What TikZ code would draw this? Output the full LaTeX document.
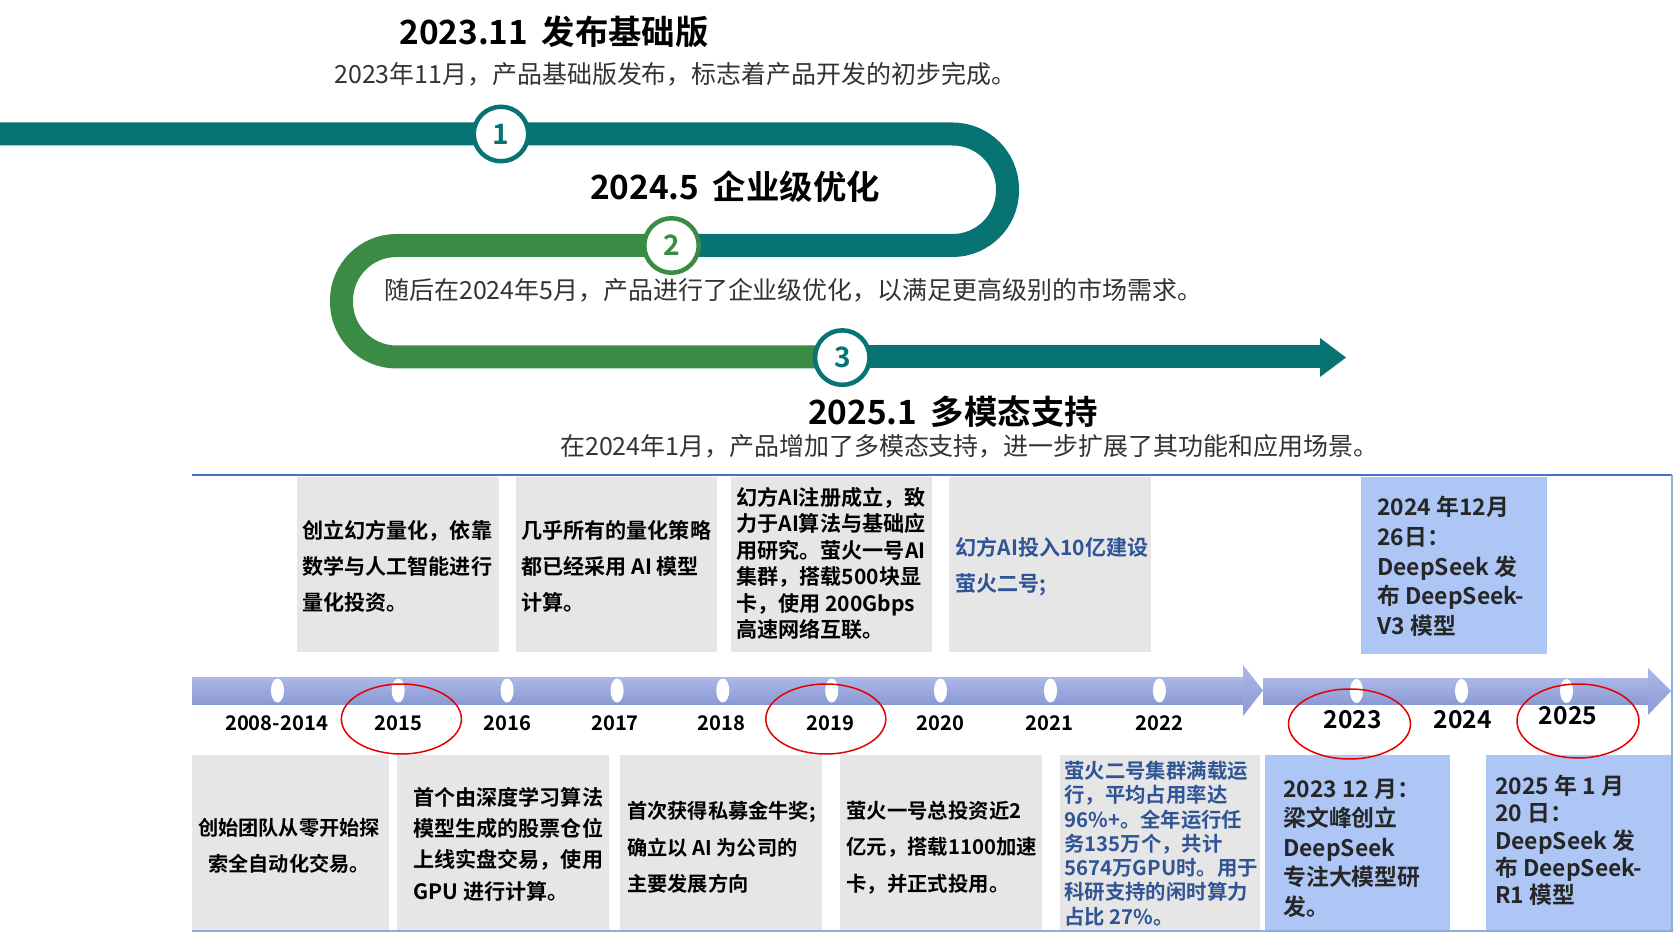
\documentclass[tikz,border=0pt]{standalone}
\usepackage{fontspec}
\setmainfont{Noto Sans CJK SC}[BoldFont={Noto Sans CJK SC Bold}]
\newdimen\pxu \pxu=0.02cm
\definecolor{roadteal}{RGB}{8,115,115}
\definecolor{roadgreen}{RGB}{58,140,68}
\definecolor{subgray}{RGB}{51,51,51}
\definecolor{cardgray}{RGB}{230,230,230}
\definecolor{cardblue}{RGB}{173,198,245}
\definecolor{inkblue}{RGB}{47,85,151}
\definecolor{bartop}{RGB}{172,184,232}
\definecolor{barbot}{RGB}{138,154,212}
\definecolor{framebl}{RGB}{68,114,196}

\begin{document}
\begin{tikzpicture}[x=0.02cm,y=-0.02cm,
  band/.style={line width=23\pxu,rounded corners=55\pxu},
  stepnum/.style={circle,draw=#1,fill=white,line width=4.5\pxu,minimum size=54.5\pxu,inner sep=0,text=#1,font=\bfseries\fontsize{16}{16}\selectfont},
  headline/.style={inner sep=0,font=\bfseries\fontsize{19}{23}\selectfont},
  subline/.style={anchor=west,inner sep=0,text=subgray,font=\fontsize{14.2}{17}\selectfont},
  card/.style={anchor=west,align=left,inner sep=0,font=\bfseries\fontsize{12}{#1}\selectfont},
  bigcard/.style={anchor=west,align=left,inner sep=0,text=black!85,font=\bfseries\fontsize{13}{#1}\selectfont},
  bar/.style={top color=bartop,bottom color=barbot,draw=none},
  tick/.style={fill=white,draw=none},
  yr/.style={inner sep=0,font=\bfseries\fontsize{11.5}{12}\selectfont},
  bigyr/.style={inner sep=0,font=\bfseries\fontsize{14}{14}\selectfont},
  ring/.style={draw=red!90!black,line width=1.5\pxu}]
\useasboundingbox (0,0) rectangle (1674,932);

% road of the three stages
\draw[band,roadteal] (0,134) -- (1007.5,134) -- (1007.5,245.5) -- (671.5,245.5);
\draw[band,roadgreen] (671.5,245.5) -- (341.5,245.5) -- (341.5,357) -- (842.3,357);
\draw[band,roadteal] (842.3,357) -- (1321,357);
\fill[roadteal] (1320,338) -- (1346,357.5) -- (1320,377) -- cycle;
\node[stepnum=roadteal] (c1) at (501,134) {1};
\node[stepnum=roadgreen] (c2) at (671.5,245.5) {2};
\node[stepnum=roadteal] (c3) at (842.3,357.6) {3};

\node[headline] (h1) at (554,32) {2023.11\hspace{0.4em}发布基础版};
\node[subline] (s1) at (334,74) {2023年11月，产品基础版发布，标志着产品开发的初步完成。};
\node[headline] (h2) at (735,187) {2024.5\hspace{0.4em}企业级优化};
\node[subline] (s2) at (384,290) {随后在2024年5月，产品进行了企业级优化，以满足更高级别的市场需求。};
\node[headline] (h3) at (953,412) {2025.1\hspace{0.4em}多模态支持};
\node[subline] (s3) at (560,446) {在2024年1月，产品增加了多模态支持，进一步扩展了其功能和应用场景。};

% frame of the time line
\draw[framebl,line width=2\pxu] (192,475) -- (1672,475);
\draw[framebl!60,line width=1.5\pxu] (1672,475) -- (1672,931) -- (192,931);

% cards above the bar
\fill[cardgray] (297,477) rectangle (499,652);
\fill[cardgray] (516,477) rectangle (717,652);
\fill[cardgray] (731,477) rectangle (932,652);
\fill[cardgray] (949,477) rectangle (1151,652);
\fill[cardblue] (1361,477) rectangle (1547,654);
\node[card=20.5pt] (a1) at (302,566) {创立幻方量化，依靠\\数学与人工智能进行\\量化投资。};
\node[card=20.5pt] (a2) at (521,566) {几乎所有的量化策略\\都已经采用 AI 模型\\计算。};
\node[card=15.1pt] (a3) at (736,563.5) {幻方AI注册成立，致\\力于AI算法与基础应\\用研究。萤火一号AI\\集群，搭载500块显\\卡，使用 200Gbps\\高速网络互联。};
\node[card=20.5pt,text=inkblue] (a4) at (955,567) {幻方AI投入10亿建设\\萤火二号;};
\node[bigcard=16.9pt] (a5) at (1377,566.5) {2024 年12月\\26日：\\DeepSeek 发\\布 DeepSeek-\\V3 模型};

% cards below the bar
\fill[cardgray] (192,755) rectangle (389,930);
\fill[cardgray] (397,755) rectangle (609,930);
\fill[cardgray] (620,755) rectangle (822,930);
\fill[cardgray] (840,755) rectangle (1042,930);
\fill[cardgray] (1060,755) rectangle (1260,930);
\fill[cardblue] (1265,755) rectangle (1450,930);
\fill[cardblue] (1486,755) rectangle (1671,930);
\node[card=20.5pt,anchor=center,align=center,font=\bfseries\fontsize{11.5}{20.5}\selectfont] (b1) at (289,846) {创始团队从零开始探\\索全自动化交易。};
\node[card=17.8pt] (b2) at (413,844) {首个由深度学习算法\\模型生成的股票仓位\\上线实盘交易，使用\\GPU 进行计算。};
\node[card=20.8pt,font=\bfseries\fontsize{11.5}{20.8}\selectfont] (b3) at (627,847.5) {首次获得私募金牛奖;\\确立以 AI 为公司的\\主要发展方向};
\node[card=20.8pt,font=\bfseries\fontsize{11.6}{20.8}\selectfont] (b4) at (846,847.7) {萤火一号总投资近2\\亿元，搭载1100加速\\卡，并正式投用。};
\node[card=13.8pt,text=inkblue,font=\bfseries\fontsize{11.6}{13.8}\selectfont] (b5) at (1064,843.5) {萤火二号集群满载运\\行，平均占用率达\\96\%+。全年运行任\\务135万个，共计\\5674万GPU时。用于\\科研支持的闲时算力\\占比 27\%。};
\node[bigcard=16.8pt] (b6) at (1283,848) {2023 12 月：\\梁文峰创立\\DeepSeek\\专注大模型研\\发。};
\node[bigcard=15.5pt] (b7) at (1495,840.5) {2025 年 1 月\\20 日：\\DeepSeek 发\\布 DeepSeek-\\R1 模型};

% the bar with its two arrows
\shade[bar] (192,677) rectangle (1243,704);
\shade[bar] (1243,665) -- (1263,690.5) -- (1243,716) -- cycle;
\shade[bar] (1263,678) rectangle (1648,704);
\shade[bar] (1648,668) -- (1671,691) -- (1648,715) -- cycle;
\fill[tick] (277.5,690.5) ellipse [x radius=6.5,y radius=12];
\fill[tick] (398.2,690.5) ellipse [x radius=6.5,y radius=12];
\fill[tick] (507.1,690.5) ellipse [x radius=6.5,y radius=12];
\fill[tick] (617.1,690.5) ellipse [x radius=6.5,y radius=12];
\fill[tick] (722.8,690.5) ellipse [x radius=6.5,y radius=12];
\fill[tick] (831.7,690.5) ellipse [x radius=6.5,y radius=12];
\fill[tick] (940.5,690.5) ellipse [x radius=6.5,y radius=12];
\fill[tick] (1050.5,690.5) ellipse [x radius=6.5,y radius=12];
\fill[tick] (1159.4,690.5) ellipse [x radius=6.5,y radius=12];
\fill[tick] (1356.5,691) ellipse [x radius=6.5,y radius=12];
\fill[tick] (1461.5,691) ellipse [x radius=6.5,y radius=12];
\fill[tick] (1566.5,691) ellipse [x radius=6.5,y radius=12];

\node[yr] (y08) at (276.5,723) {2008-2014};
\node[yr] (y15) at (398.2,723) {2015};
\node[yr] (y16) at (507.1,723) {2016};
\node[yr] (y17) at (615,723) {2017};
\node[yr] (y18) at (721.7,723) {2018};
\node[yr] (y19) at (830.6,723) {2019};
\node[yr] (y20) at (940.5,723) {2020};
\node[yr] (y21) at (1049.5,723) {2021};
\node[yr] (y22) at (1159.4,723) {2022};
\node[bigyr] (y23) at (1352.6,720) {2023};
\node[bigyr] (y24) at (1462.6,720) {2024};
\node[bigyr] (y25) at (1568,716) {2025};

% red marks
\draw[ring] (401.4,719) ellipse [x radius=60,y radius=35];
\draw[ring] (825.8,719) ellipse [x radius=60,y radius=35];
\draw[ring] (1349.5,724) ellipse [x radius=61,y radius=35];
\draw[ring] (1578,721) ellipse [x radius=61,y radius=37];
\end{tikzpicture}
\end{document}
